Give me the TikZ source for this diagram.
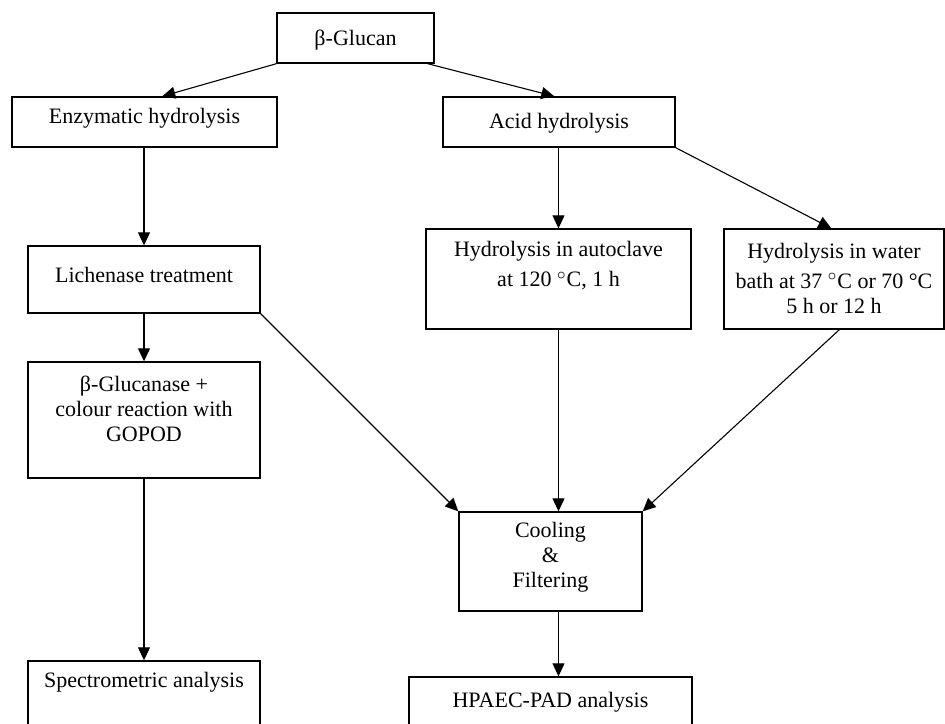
\documentclass[tikz,border=0pt]{standalone}
\usepackage{fontspec}
\setmainfont{Liberation Serif}
\usetikzlibrary{arrows.meta}
\begin{document}
\begin{tikzpicture}[x=0.5pt,y=-0.5pt,
  box/.style={draw, line width=0.7pt, inner sep=0pt},
  txt/.style={align=center, font=\fontsize{11}{12.5}\selectfont, inner sep=0pt},
  arr/.style={-{Triangle[length=6.5pt,width=6pt]}, line width=0.55pt}]
\clip (0,0) rectangle (945,723);
\fill[white] (0,0) rectangle (945,723);
% boxes
\node[box, minimum width=78.5pt, minimum height=25pt] (glucan) at (355.5,38) {};
\node[box, minimum width=132.5pt, minimum height=25pt] (enz) at (144.5,122) {};
\node[box, minimum width=116pt, minimum height=25pt] (acid) at (559,122) {};
\node[box, minimum width=116pt, minimum height=33.5pt] (lich) at (144,279.5) {};
\node[box, minimum width=132.5pt, minimum height=50pt] (auto) at (558.5,279) {};
\node[box, minimum width=110pt, minimum height=50pt] (water) at (834,279) {};
\node[box, minimum width=116pt, minimum height=58pt] (gluc2) at (144,420) {};
\node[box, minimum width=91.5pt, minimum height=49.5pt] (cool) at (550.5,561.5) {};
\node[box, minimum width=116pt, minimum height=49.5pt] (spec) at (144,710.5) {};
\node[box, minimum width=141.5pt, minimum height=41.5pt] (hpaec) at (550.5,718.5) {};
% texts
\node[txt] (glucan-t) at (355.5,40) {β-Glucan};
\node[txt] (enz-t) at (144.5,118) {Enzymatic hydrolysis};
\node[txt] (acid-t) at (559,123) {Acid hydrolysis};
\node[txt] (lich-t) at (144,275) {Lichenase treatment};
\node[txt] (auto-t) at (558.5,266) {Hydrolysis in autoclave\\[2.5pt] at 120 $^{\circ}$C, 1 h};
\node[txt] (water-t) at (834,278) {Hydrolysis in water\\[2.5pt] bath at 37 $^{\circ}$C or 70 °C\\ 5 h or 12 h};
\node[txt] (gluc2-t) at (144,409) {β-Glucanase +\\ colour reaction with\\ GOPOD};
\node[txt] (cool-t) at (550.5,557.5) {Cooling\\ \&\\ Filtering};
\node[txt] (spec-t) at (144,682) {Spectrometric analysis};
\node[txt] (hpaec-t) at (550.5,702) {HPAEC-PAD analysis};
% connectors
\draw[arr] (glucan.south west) -- ([xshift=75.5pt]enz.north west);
\draw[arr] ([xshift=-3.5pt]glucan.south east) -- ([xshift=56pt]acid.north west);
\draw[arr] (lich.north |- enz.south) -- (lich.north);
\draw[arr] (lich.south) -- (gluc2.north);
\draw[arr] (gluc2.south) -- (spec.north);
\draw[arr] (auto.north |- acid.south) -- (auto.north);
\draw[arr] (acid.south east) -- ([xshift=54pt]water.north west);
\draw[arr] (lich.south east) -- (cool.north west);
\draw[arr] (auto.south) -- (auto.south |- cool.north);
\draw[arr] ([xshift=58pt]water.south west) -- (cool.north east);
\draw[arr] (auto.south |- cool.south) -- (auto.south |- hpaec.north);
\end{tikzpicture}
\end{document}
